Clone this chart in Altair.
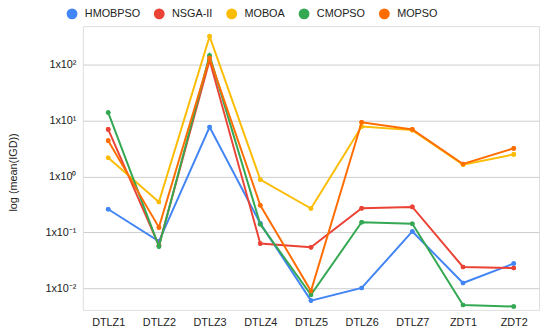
import json
import altair as alt
import pandas as pd

categories = ["DTLZ1", "DTLZ2", "DTLZ3", "DTLZ4", "DTLZ5", "DTLZ6", "DTLZ7", "ZDT1", "ZDT2"]
series_names = ["HMOBPSO", "NSGA-II", "MOBOA", "CMOPSO", "MOPSO"]
series_colors = ["#4285F4", "#EA4335", "#FBBC04", "#34A853", "#FF6D01"]

hmobpso = [0.26, 0.069, 7.7, 0.145, 0.006, 0.0101, 0.104, 0.0124, 0.0277]
nsga2 = [7.0, 0.058, 121, 0.063, 0.054, 0.27, 0.286, 0.024, 0.023]
moboa = [2.17, 0.35, 325, 0.885, 0.268, 7.9, 6.8, 1.63, 2.5]
cmopso = [14.0, 0.056, 148, 0.14, 0.0076, 0.152, 0.143, 0.005, 0.0047]
mopso = [4.4, 0.123, 133, 0.307, 0.0089, 9.4, 7.0, 1.68, 3.2]

ytick_values = [0.01, 0.1, 1, 10, 100]
ytick_labels = ["1x10⁻²", "1x10⁻¹", "1x10⁰", "1x10¹", "1x10²"]

all_values = [hmobpso, nsga2, moboa, cmopso, mopso]
rows = []
for name, vals in zip(series_names, all_values):
    for c, v in zip(categories, vals):
        rows.append({"problem": c, "series": name, "igd": v})
df = pd.DataFrame(rows)

label_expr = json.dumps(ytick_labels) + "[round(log(datum.value)/LN10)+2]"

font = "Liberation Sans"
fs = 11

x_enc = alt.X(
    "problem:N",
    sort=categories,
    scale=alt.Scale(type="point", padding=0.5),
    axis=alt.Axis(title=None, labelAngle=0, ticks=False, domain=False, grid=False,
                  labelFontSize=fs, labelColor="#222222", labelPadding=7, labelFont=font),
)
y_enc = alt.Y(
    "igd:Q",
    scale=alt.Scale(type="log", domain=[0.004089, 496.2], nice=False),
    axis=alt.Axis(title="log (mean(IGD))", values=ytick_values, labelExpr=label_expr,
                  ticks=False, domain=False, grid=True, gridColor="#cccccc",
                  labelFontSize=fs, labelColor="#222222", labelPadding=7, labelFont=font,
                  titleFont=font, titleFontSize=fs, titleFontWeight="normal",
                  titleColor="#222222", titleX=-70, titleY=148, titleBaseline="middle"),
)
color_enc = alt.Color(
    "series:N",
    scale=alt.Scale(domain=series_names, range=series_colors),
    legend=alt.Legend(title=None, orient="none", legendX=-16.5, legendY=-18,
                      direction="horizontal", symbolType="circle", symbolSize=121,
                      symbolStrokeWidth=0, labelFontSize=fs, labelFont=font,
                      labelColor="#222222", columnPadding=13.5, labelOffset=7.5),
)

base = alt.Chart(df)
points_all = base.mark_point(filled=True, size=22, opacity=1).encode(x=x_enc, y=y_enc, color=color_enc)
layers = [points_all]
for name in series_names:
    layers.append(
        base.transform_filter(alt.datum.series == name)
        .mark_line(strokeWidth=2)
        .encode(x=x_enc, y=y_enc, color=color_enc)
    )
    layers.append(
        base.transform_filter(alt.datum.series == name)
        .mark_point(filled=True, size=22, opacity=1)
        .encode(x=x_enc, y=y_enc, color=color_enc)
    )

chart = alt.layer(*layers).properties(
    width=463,
    height=288,
    autosize=alt.AutoSizeParams(type="none"),
    padding={"left": 76, "top": 16, "right": 3, "bottom": 18},
).configure_view(stroke=None).configure(font=font)

chart.save("out.html", embed_options={"renderer": "svg", "actions": False})
